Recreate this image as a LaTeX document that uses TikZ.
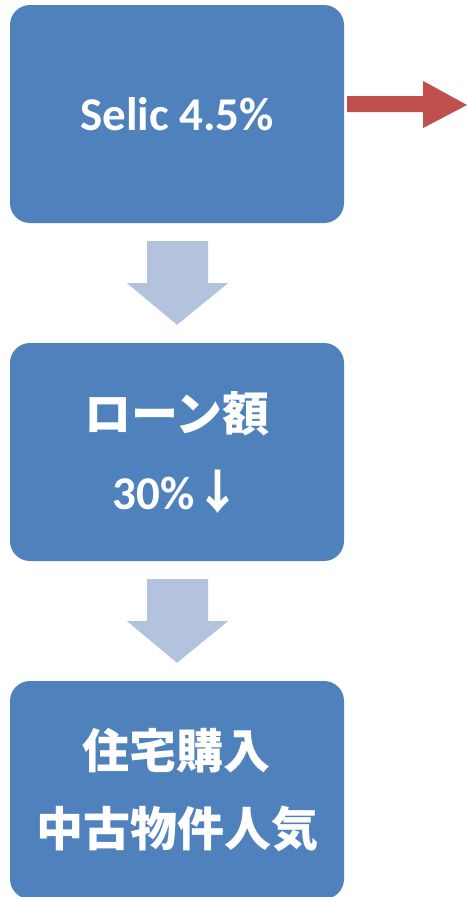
\documentclass[tikz,border=0pt]{standalone}
\usepackage{fontspec}
\setmainfont{Carlito}
\newfontfamily\jp{Noto Sans CJK JP}
\usetikzlibrary{calc}
\definecolor{boxblue}{HTML}{4F81BD}
\definecolor{arrblue}{HTML}{B3C3DE}
\definecolor{arrred}{HTML}{C0504D}
\tikzset{
  stepbox/.style={fill=boxblue, draw=none, rounded corners=20pt, minimum width=334pt, minimum height=218pt, inner sep=0pt, text=white, align=center, font=\bfseries\fontsize{47}{78}\selectfont},
  downarr/.style={fill=arrblue, draw=none},
  redarr/.style={fill=arrred, draw=none}
}
\begin{document}
\begin{tikzpicture}[x=1pt,y=-1pt]
\useasboundingbox (0,0) rectangle (467,897);
\node[stepbox] (b1) at (177,114) {Selic 4.5\%};
\node[stepbox] (b2) at (177,452) {{\jp\bfseries ローン額}\\30\%{\jp\bfseries ↓}};
\node[stepbox] (b3) at (177,790) {{\jp\bfseries 住宅購入}\\{\jp\bfseries 中古物件人気}};
% down arrows
\foreach \a/\b in {b1/b2, b2/b3}{
  \fill[downarr] ($(\a.south)+(-30,18)$) -- ($(\a.south)+(31,18)$) -- ($(\a.south)+(31,60)$) -- ($(\a.south)+(51,60)$) -- ($(\b.north)+(0,-18)$) -- ($(\a.south)+(-50,60)$) -- ($(\a.south)+(-30,60)$) -- cycle;
}
% red arrow
\coordinate (rt) at (467,105);
\fill[redarr] ($(b1.east)+(3,-18)$) -- ($(b1.east)+(79,-18)$) -- ($(b1.east)+(79,-33)$) -- (rt) -- ($(b1.east)+(79,14)$) -- ($(b1.east)+(79,-2)$) -- ($(b1.east)+(3,-2)$) -- cycle;
\end{tikzpicture}
\end{document}
